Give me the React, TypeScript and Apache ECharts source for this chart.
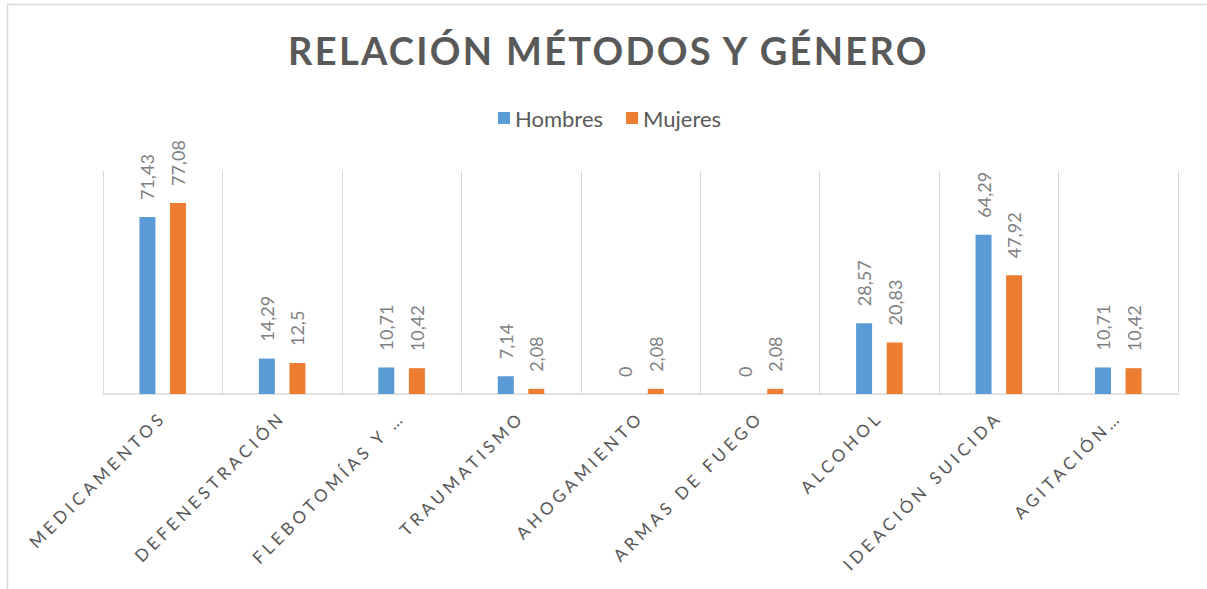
import React, { useEffect, useRef } from "react";
import * as echarts from "echarts";

const categories = [
  "MEDICAMENTOS",
  "DEFENESTRACIÓN",
  "FLEBOTOMÍAS Y …",
  "TRAUMATISMO",
  "AHOGAMIENTO",
  "ARMAS DE FUEGO",
  "ALCOHOL",
  "IDEACIÓN SUICIDA",
  "AGITACIÓN…",
];
const hombres = [71.43, 14.29, 10.71, 7.14, 0, 0, 28.57, 64.29, 10.71];
const mujeres = [77.08, 12.5, 10.42, 2.08, 2.08, 2.08, 20.83, 47.92, 10.42];
const seriesNames = ["Hombres", "Mujeres"];
const titleText = "RELACIÓN MÉTODOS Y GÉNERO";

const FONT = "Lato, 'Open Sans', sans-serif";

export default function App() {
  const ref = useRef<HTMLDivElement>(null);
  useEffect(() => {
    if (!ref.current) return;
    const chart = echarts.init(ref.current, undefined, { renderer: "svg" });
    const fmt = (p: any) => String(p.value).replace(".", ",");
    const label = {
      show: true,
      position: "top",
      rotate: 90,
      align: "left",
      verticalAlign: "middle",
      distance: 17,
      color: "#7f7f7f",
      fontSize: 18,
      fontFamily: FONT,
      formatter: fmt,
    };
    chart.setOption({
      animation: false,
      backgroundColor: "#ffffff",
      title: {
        text: titleText,
        left: 288,
        top: 31,
        padding: 0,
        textStyle: {
          color: "#595959",
          fontSize: 38,
          fontWeight: "bold",
          fontFamily: FONT,
        },
      },
      legend: {
        data: seriesNames,
        left: 498,
        top: 107,
        padding: 0,
        itemWidth: 12,
        itemHeight: 12,
        itemGap: 23,
        icon: "rect",
        textStyle: { color: "#595959", fontSize: 22, fontFamily: FONT },
      },
      graphic: [
        {
          type: "rect",
          shape: { x: 7.5, y: 4.5, width: 1230, height: 640 },
          style: { fill: "none", stroke: "#d9d9d9", lineWidth: 1.5 },
          silent: true,
        },
      ],
      grid: { left: 103, right: 29, top: 171, bottom: 195, containLabel: false },
      xAxis: {
        type: "category",
        data: categories,
        axisLine: { show: true, lineStyle: { color: "#d9d9d9", width: 1.5 } },
        axisTick: { show: false },
        splitLine: { show: true, lineStyle: { color: "#d9d9d9", width: 1 } },
        axisLabel: {
          interval: 0,
          rotate: 45,
          margin: 20,
          color: "#595959",
          fontSize: 17,
          fontFamily: FONT,
        },
      },
      yAxis: { type: "value", min: 0, max: 90, show: false },
      series: [
        {
          name: seriesNames[0],
          type: "bar",
          data: hombres,
          barWidth: 16,
          barGap: "91%",
          itemStyle: { color: "#5b9bd5" },
          label,
        },
        {
          name: seriesNames[1],
          type: "bar",
          data: mujeres,
          barWidth: 16,
          barGap: "91%",
          itemStyle: { color: "#ed7d31" },
          label,
        },
      ],
    });
    return () => chart.dispose();
  }, []);
  return (
    <>
      <style>{`
        #chart text[style*="38px"] { letter-spacing: 2.3px; }
        #chart text[style*="17px"] { letter-spacing: 4px; }
      `}</style>
      <div
        id="chart"
        ref={ref}
        style={{ position: "fixed", left: 0, top: 0, width: 1207, height: 589 }}
      />
    </>
  );
}
